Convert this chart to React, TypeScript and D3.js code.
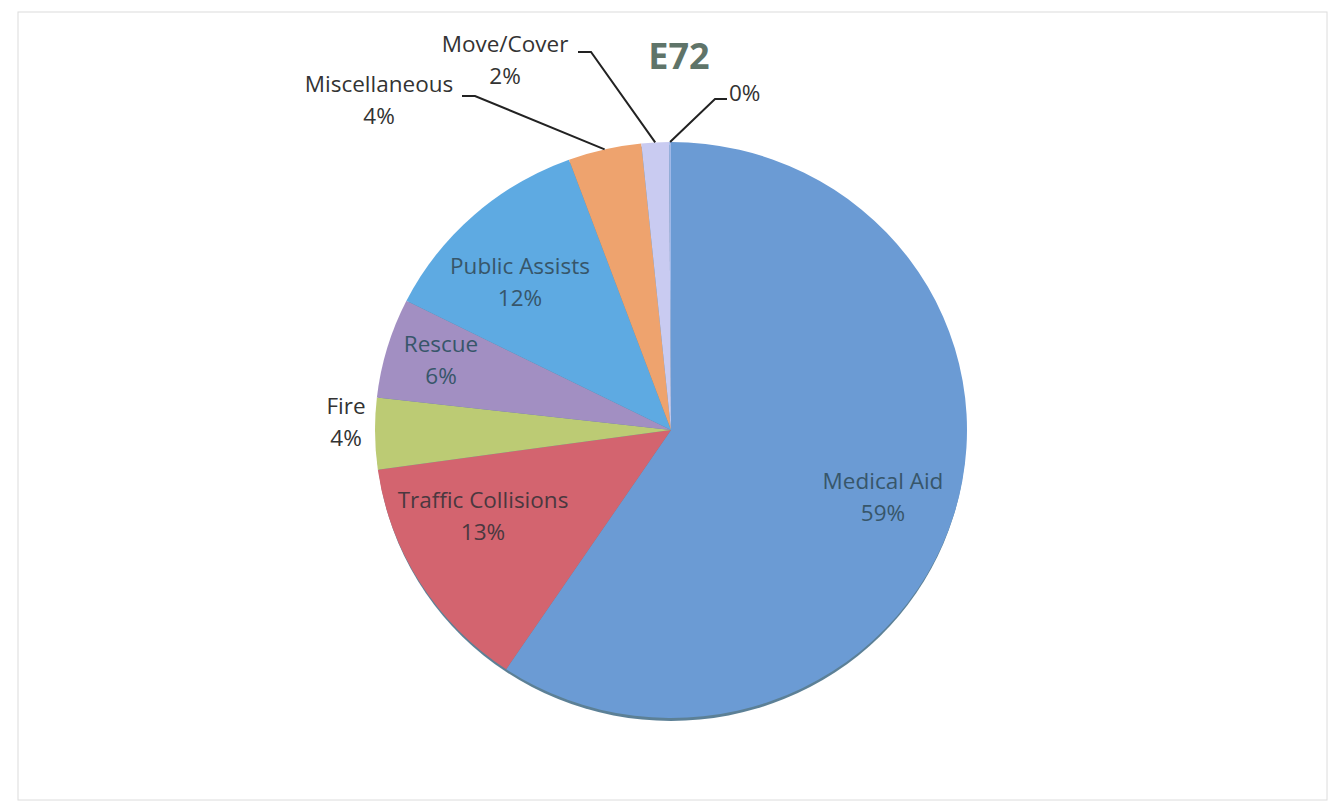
import React from "react";
import * as d3 from "d3";

const categories = [
  "Medical Aid",
  "Traffic Collisions",
  "Fire",
  "Rescue",
  "Public Assists",
  "Miscellaneous",
  "Move/Cover",
  "",
];
const values = [59.4, 13.4, 4.0, 5.6, 12.0, 4.0, 1.5, 0.1];
const percentLabels = ["59%", "13%", "4%", "6%", "12%", "4%", "2%", "0%"];
const colors = [
  "#6b9bd4",
  "#d3646f",
  "#bccb74",
  "#a28fc2",
  "#5eaae2",
  "#eea36e",
  "#c9cbf1",
  "#9fb8e8",
];
const title = "E72";

const W = 1344;
const H = 812;
const CX = 671;
const CY = 430;
const RX = 296;
const RY = 288;
const R = 292;

type LabelSpec = {
  x: number;
  y: number;
  anchor: "start" | "middle" | "end";
  inside: boolean;
  leader?: { hx1: number; hx2: number; hy: number };
};

// label layout (positions only)
const labelLayout: LabelSpec[] = [
  { x: 883, y: 489, anchor: "middle", inside: true },
  { x: 483, y: 508, anchor: "middle", inside: true },
  { x: 346, y: 414, anchor: "middle", inside: false },
  { x: 441, y: 352, anchor: "middle", inside: true },
  { x: 520, y: 274, anchor: "middle", inside: true },
  { x: 379, y: 92, anchor: "middle", inside: false, leader: { hx1: 462, hx2: 475, hy: 96 } },
  { x: 505, y: 52, anchor: "middle", inside: false, leader: { hx1: 578, hx2: 591, hy: 52 } },
  { x: 729, y: 101, anchor: "start", inside: false, leader: { hx1: 727, hx2: 715, hy: 99 } },
];

export default function App() {
  const pie = d3
    .pie<number>()
    .sort(null)
    .value((d) => d)
    .startAngle(0)
    .endAngle(2 * Math.PI);
  const arcs = pie(values);
  const arc = d3.arc<d3.PieArcDatum<number>>().innerRadius(0).outerRadius(R);
  const sx = RX / R;
  const sy = RY / R;

  const edgePoint = (a: d3.PieArcDatum<number>) => {
    const m = (a.startAngle + a.endAngle) / 2;
    return [CX + RX * Math.sin(m), CY - RY * Math.cos(m)];
  };

  const font = "'Open Sans', 'DejaVu Sans', sans-serif";

  return (
    <svg width={W} height={H} style={{ display: "block", position: "absolute", left: 0, top: 0, background: "#fff" }}>
      <rect x={0} y={0} width={W} height={H} fill="#ffffff" />
      <rect x={18} y={12} width={1309} height={788} fill="none" stroke="#dcdcdc" strokeWidth={1} />
      <text
        x={679}
        y={69}
        textAnchor="middle"
        fontFamily={font}
        fontWeight={700}
        fontSize={36}
        fill="#5f7469"
      >
        {title}
      </text>
      {/* rim shadow */}
      <ellipse cx={CX} cy={CY + 3} rx={RX - 1} ry={RY} fill="#3f6a84" opacity={0.85} />
      <g transform={`translate(${CX},${CY}) scale(${sx},${sy})`}>
        {arcs.map((a, i) => (
          <path key={i} d={arc(a) || ""} fill={colors[i]} stroke="none" />
        ))}
      </g>
      {arcs.map((a, i) => {
        const L = labelLayout[i];
        if (!L.leader) return null;
        const [ex, ey] = edgePoint(a);
        const pts = `${L.leader.hx1},${L.leader.hy} ${L.leader.hx2},${L.leader.hy} ${ex},${ey}`;
        return <polyline key={"l" + i} points={pts} fill="none" stroke="#222" strokeWidth={2} />;
      })}
      {arcs.map((a, i) => {
        const L = labelLayout[i];
        const fill = L.inside ? (i === 1 ? "#4a383f" : "#37566a") : "#333333";
        return (
          <text
            key={"t" + i}
            x={L.x}
            y={L.y}
            textAnchor={L.anchor}
            fontFamily={font}
            fontSize={22.5}
            fill={fill}
          >
            {categories[i] ? (
              <>
                <tspan x={L.x}>{categories[i]}</tspan>
                <tspan x={L.x} dy={32}>{percentLabels[i]}</tspan>
              </>
            ) : (
              <tspan x={L.x}>{percentLabels[i]}</tspan>
            )}
          </text>
        );
      })}
    </svg>
  );
}
